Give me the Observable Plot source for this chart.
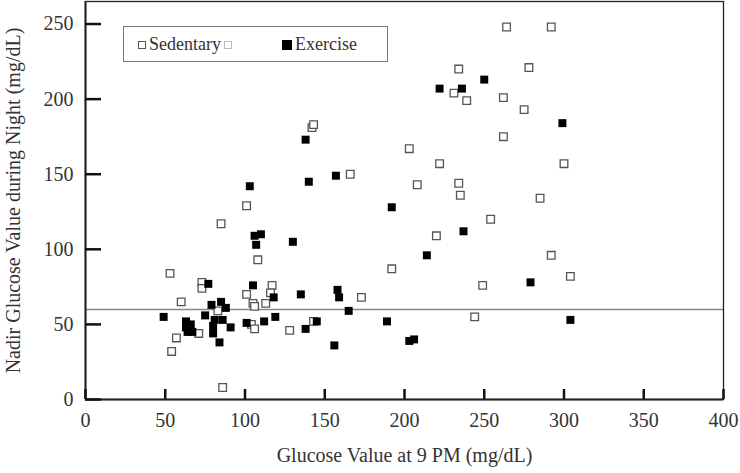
<!DOCTYPE html>
<html><head><meta charset="utf-8">
<script src="https://cdn.jsdelivr.net/npm/d3@7"></script>
<script src="https://cdn.jsdelivr.net/npm/@observablehq/plot@0.6"></script>
<style>
body{margin:0;background:#fff;}
#wrap{position:relative;width:740px;height:473px;font-family:"Liberation Serif","Times New Roman",serif;}
#wrap svg{font-family:"Liberation Serif","Times New Roman",serif;font-size:20px;color:#333;}
#legend{position:absolute;left:123px;top:26px;width:265px;height:36px;border:1px solid #777;background:#fff;font-size:18px;color:#333;box-sizing:border-box;}
.item{display:flex;align-items:center;position:absolute;top:7px;}
.sw{display:inline-block;width:8px;height:8px;margin-right:3px;box-sizing:border-box;}
.open{border:1.3px solid #555;background:#fff;}
.ghost{border:1.3px solid #bbb;background:#fff;margin-left:3px;}
.fill{background:#000;width:10px;height:10px;}
</style></head><body><div id="wrap"></div>
<script>
const seriesNames = ["Sedentary", "Exercise"];
const xTicks = [0, 50, 100, 150, 200, 250, 300, 350, 400];
const yTicks = [0, 50, 100, 150, 200, 250];
const thresholdY = [60];
const sedentaryX = [53,60,73,73,57,54,71,83,86,101,108,105,106,104,106,117,116,113,128,143,173,101,85,142,143,166,192,220,264,292,234,278,231,239,262,275,262,203,222,300,208,234,235,285,254,292,304,249,244];
const sedentaryY = [84,65,78,74,41,32,44,59,8,70,93,64,62,50,47,76,71,64,46,52,68,129,117,181,183,150,87,109,248,248,220,221,204,199,201,193,175,167,157,157,143,144,136,134,120,96,82,76,55];
const exerciseX = [49,77,79,75,85,88,63,66,63,64,67,81,86,80,80,84,91,101,105,106,110,107,118,119,112,130,135,138,145,156,158,159,165,103,138,140,157,189,203,206,214,222,236,250,299,192,237,279,304];
const exerciseY = [55,77,63,56,65,61,52,50,48,45,45,53,53,49,44,38,48,51,76,109,110,103,68,55,52,105,70,47,52,36,73,68,59,142,173,145,149,52,39,40,96,207,207,213,184,128,112,78,53];

const sedentary = sedentaryX.map((x, i) => ({x, y: sedentaryY[i]}));
const exercise = exerciseX.map((x, i) => ({x, y: exerciseY[i]}));

const chart = Plot.plot({
  width: 740, height: 473,
  marginLeft: 85, marginRight: 17, marginTop: 1, marginBottom: 74,
  x: {domain: [0, 400]},
  y: {domain: [0, 265]},
  marks: [
    Plot.ruleY(thresholdY, {stroke: "#888", strokeWidth: 1.5}),
    Plot.frame({stroke: "#222", strokeWidth: 1.3}),
    Plot.ruleX([0], {stroke: "#222", strokeWidth: 2}),
    Plot.ruleY([0], {stroke: "#222", strokeWidth: 2}),
    Plot.axisX(xTicks, {tickSize: 0, tickPadding: 13, fontSize: 20,
      label: "Glucose Value at 9 PM (mg/dL)", labelAnchor: "center", labelOffset: 62, labelArrow: "none"}),
    Plot.axisY(yTicks, {tickSize: 0, tickPadding: 12, fontSize: 20,
      label: "Nadir Glucose Value during Night (mg/dL)", labelAnchor: "center", labelOffset: 80, labelArrow: "none"}),
    Plot.dot(sedentary, {x: "x", y: "y", symbol: "square", r: 4.3, stroke: "#555", strokeWidth: 1.3, fill: "white"}),
    Plot.dot(exercise, {x: "x", y: "y", symbol: "square", r: 4.5, fill: "#000", stroke: "none"}),
    Plot.tickX(xTicks, {x: d => d, insetTop: 388, stroke: "#111", strokeWidth: 2.5}),
    Plot.tickY(yTicks, {y: d => d, insetRight: 622, stroke: "#111", strokeWidth: 2.5})
  ]
});
const wrap = document.getElementById("wrap");
wrap.appendChild(chart);

const legend = document.createElement("div");
legend.id = "legend";
legend.innerHTML =
  `<span class="item" style="left:14px"><span class="sw open"></span>${seriesNames[0]}<span class="sw ghost"></span></span>` +
  `<span class="item" style="left:158px"><span class="sw fill"></span>${seriesNames[1]}</span>`;
wrap.appendChild(legend);
</script></body></html>
